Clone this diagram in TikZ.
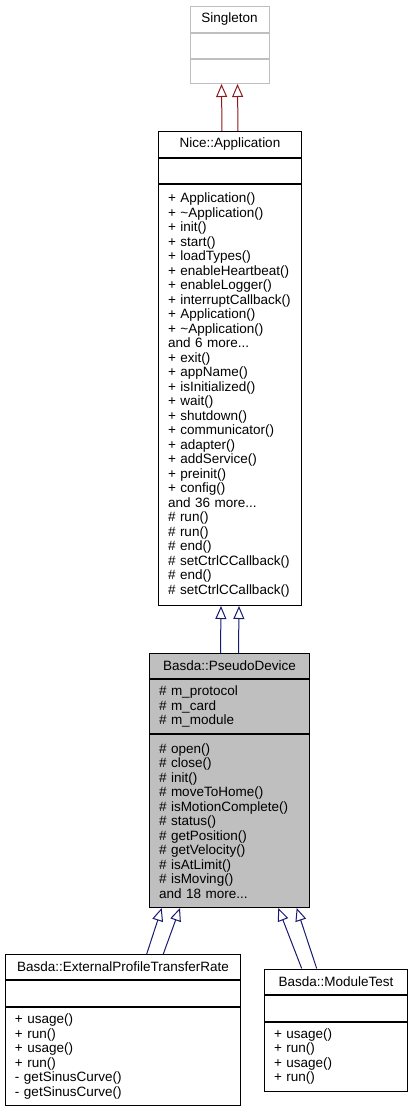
\documentclass[tikz,border=0pt]{standalone}
\usepackage{fontspec}
\setmainfont{Liberation Sans}
\usetikzlibrary{arrows.meta,positioning}
\definecolor{inhred}{HTML}{8B1A1A}
\definecolor{inhblue}{HTML}{191970}
\definecolor{greybox}{HTML}{BFBFBF}
\tikzset{
  umlfont/.style={font=\fontsize{13.5}{14.5}\selectfont},
  ctitle/.style={draw, umlfont, anchor=north west, inner sep=0pt, align=center},
  cpart/.style={draw, umlfont, anchor=north west, inner xsep=9.5pt, inner ysep=0pt, align=left},
  inh/.style={line width=1pt, -{Triangle[open, length=13pt, width=11pt]}},
}
\begin{document}
\begin{tikzpicture}[x=1pt, y=-1pt, line width=1pt]
    \useasboundingbox (0,0) rectangle (413,1109);
    % Singleton
    \node[ctitle, draw=greybox, minimum width=79pt, minimum height=25.5pt] (sing) at (189.5,6) {Singleton};
    \node[cpart, draw=greybox, text width=60pt, minimum height=25pt] (sing-a) at (sing.south west) {};
    \node[cpart, draw=greybox, text width=60pt, minimum height=24.5pt] (sing-m) at (sing-a.south west) {};
    % Nice::Application
    \node[ctitle, minimum width=143pt, minimum height=26pt] (app) at (158,131) {Nice::Application};
    \node[cpart, text width=124pt, minimum height=25pt] (app-a) at (app.south west) {};
    \node[cpart, text width=124pt, minimum height=421pt] (app-m) at (app-a.south west) {%
        + Application()\\ + \textasciitilde Application()\\ + init()\\ + start()\\ + loadTypes()\\
        + enableHeartbeat()\\ + enableLogger()\\ + interruptCallback()\\ + Application()\\
        + \textasciitilde Application()\\ and 6 more...\\ + exit()\\ + appName()\\ + isInitialized()\\
        + wait()\\ + shutdown()\\ + communicator()\\ + adapter()\\ + addService()\\ + preinit()\\
        + config()\\ and 36 more...\\ \# run()\\ \# run()\\ \# end()\\ \# setCtrlCCallback()\\
        \# end()\\ \# setCtrlCCallback()};
    % Basda::PseudoDevice
    \node[ctitle, fill=greybox, minimum width=160pt, minimum height=25pt] (pd) at (149,653) {Basda::PseudoDevice};
    \node[cpart, fill=greybox, text width=141pt, minimum height=54pt] (pd-a) at (pd.south west) {%
        \# m\_protocol\\ \# m\_card\\ \# m\_module};
    \node[cpart, fill=greybox, text width=141pt, minimum height=173pt] (pd-m) at (pd-a.south west) {%
        \# open()\\ \# close()\\ \# init()\\ \# moveToHome()\\ \# isMotionComplete()\\ \# status()\\
        \# getPosition()\\ \# getVelocity()\\ \# isAtLimit()\\ \# isMoving()\\ and 18 more...};
    % Basda::ExternalProfileTransferRate
    \node[ctitle, minimum width=235pt, minimum height=25pt] (eptr) at (5,954) {Basda::ExternalProfileTransferRate};
    \node[cpart, text width=216pt, minimum height=25.5pt] (eptr-a) at (eptr.south west) {};
    \node[cpart, text width=216pt, minimum height=98.5pt] (eptr-m) at (eptr-a.south west) {%
        + usage()\\ + run()\\ + usage()\\ + run()\\ - getSinusCurve()\\ - getSinusCurve()};
    % Basda::ModuleTest
    \node[ctitle, minimum width=143pt, minimum height=25.5pt] (mt) at (264,968.5) {Basda::ModuleTest};
    \node[cpart, text width=124pt, minimum height=25.5pt] (mt-a) at (mt.south west) {};
    \node[cpart, text width=124pt, minimum height=69pt] (mt-m) at (mt-a.south west) {%
        + usage()\\ + run()\\ + usage()\\ + run()};
    % inheritance
    \foreach \dx in {-8,8}
        \draw[inh, inhred] ([xshift=\dx pt]app.north) -- ([xshift=\dx pt]sing-m.south);
    \foreach \dx in {-9,9}
        \draw[inh, inhblue] ([xshift=\dx pt]pd.north) -- ([xshift=\dx pt]app-m.south);
    \foreach \a/\b in {141.7/12.7, 158.3/31}
        \draw[inh, inhblue] ([xshift=\a pt]eptr.north west) -- ([xshift=\b pt]pd-m.south west);
    \foreach \a/\b in {37.7/129.3, 52.7/147.7}
        \draw[inh, inhblue] ([xshift=\a pt]mt.north west) -- ([xshift=\b pt]pd-m.south west);
\end{tikzpicture}
\end{document}
